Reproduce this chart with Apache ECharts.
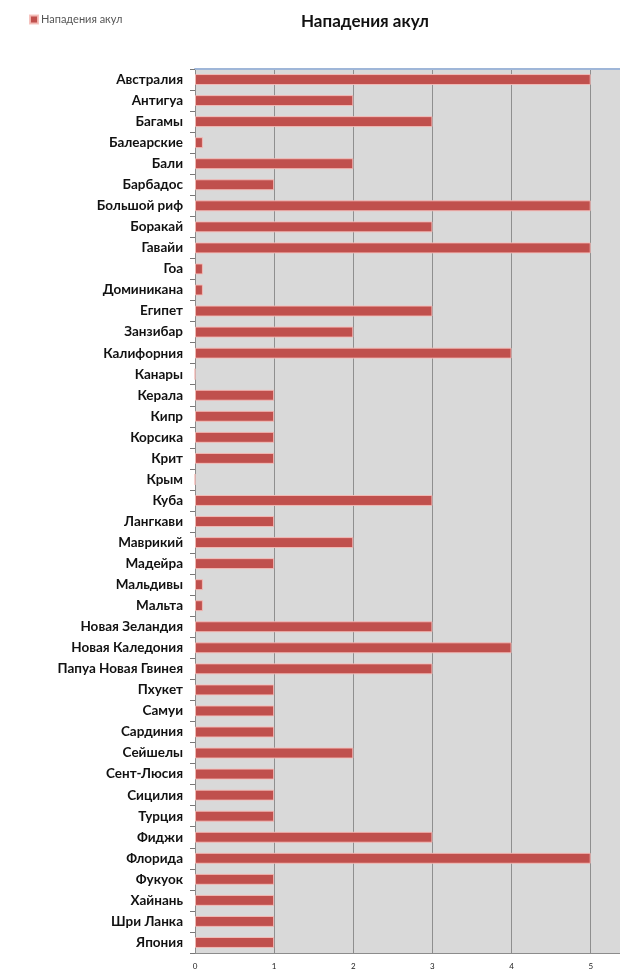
<!DOCTYPE html>
<html><head><meta charset="utf-8">
<script src="https://cdn.jsdelivr.net/npm/echarts@6/dist/echarts.min.js"></script>
<style>html,body{margin:0;padding:0;background:#fff}#c{width:620px;height:979px}</style>
</head><body><div id="c"></div>
<script>
const categories = ['Австралия','Антигуа','Багамы','Балеарские','Бали','Барбадос','Большой риф','Боракай','Гавайи','Гоа','Доминикана','Египет','Занзибар','Калифорния','Канары','Керала','Кипр','Корсика','Крит','Крым','Куба','Лангкави','Маврикий','Мадейра','Мальдивы','Мальта','Новая Зеландия','Новая Каледония','Папуа Новая Гвинея','Пхукет','Самуи','Сардиния','Сейшелы','Сент-Люсия','Сицилия','Турция','Фиджи','Флорида','Фукуок','Хайнань','Шри Ланка','Япония'];
const attacks = [5,2,3,0.1,2,1,5,3,5,0.1,0.1,3,2,4,0,1,1,1,1,0,3,1,2,1,0.1,0.1,3,4,3,1,1,1,2,1,1,1,3,5,1,1,1,1];
const xTicks = [0,1,2,3,4,5];
const xMaxVisible = 5.37; // the reference crops the axis at the image edge

const chart = echarts.init(document.getElementById('c'));
const fmt = v => (xTicks.indexOf(v) >= 0 ? String(v) : '');
chart.setOption({
  animation:false,
  backgroundColor:'#ffffff',
  title:{text:'Нападения акул',left:360,top:8,textAlign:'center',
    textStyle:{fontFamily:'Lato',fontWeight:'bold',fontSize:17,color:'#111'}},
  legend:{left:24,top:9,itemWidth:8,itemHeight:8,itemGap:4,icon:'rect',
    textStyle:{fontFamily:'Lato',fontSize:11,color:'#555',padding:[0,0,0,-2]},
    data:['Нападения акул']},
  grid:{left:195,right:0,top:69,bottom:26,show:true,backgroundColor:'#d9d9d9',borderWidth:0,containLabel:false},
  xAxis:[{type:'value',min:xTicks[0],max:xMaxVisible,interval:1,
    axisLine:{show:true,lineStyle:{color:'#8c8c8c',width:1}},
    axisTick:{show:true,length:4,inside:true,lineStyle:{color:'#8c8c8c'}},
    axisLabel:{fontFamily:'Lato',fontSize:8,color:'#222',margin:9,formatter:fmt,showMaxLabel:false},
    splitLine:{show:true,lineStyle:{color:'#8f8f8f',width:1}}},
    {type:'value',position:'top',min:xTicks[0],max:xMaxVisible,interval:1,
    axisLine:{show:true,lineStyle:{color:'#9fb6d8',width:2}},axisTick:{show:false},axisLabel:{show:false},splitLine:{show:false}}],
  yAxis:{type:'category',data:categories,inverse:true,
    axisLine:{show:true,lineStyle:{color:'#8c8c8c'}},
    axisTick:{show:true,length:5,lineStyle:{color:'#777'}},
    axisLabel:{fontFamily:'Lato',fontWeight:'bold',fontSize:13.5,color:'#111',margin:12}},
  series:[{name:'Нападения акул',type:'bar',data:attacks,barWidth:'52%',
    itemStyle:{color:'#c0504d',borderColor:'rgba(245,190,185,0.9)',borderWidth:1}}]
});
</script></body></html>
